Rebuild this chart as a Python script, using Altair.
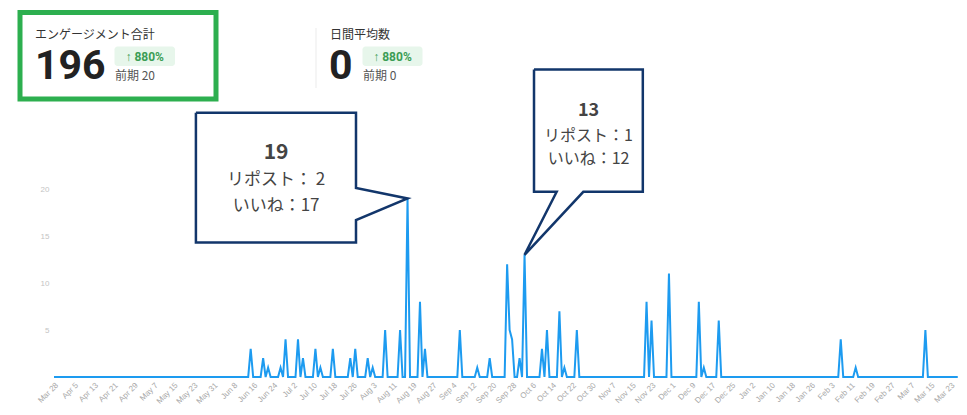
import altair as alt
import pandas as pd

# ---------------- data ----------------
start_date = "2024-03-28"
end_date = "2025-03-26"

peak_dates = ["2024-06-15", "2024-06-20", "2024-06-22", "2024-06-27", "2024-06-29",
              "2024-07-04", "2024-07-06", "2024-07-11", "2024-07-13", "2024-07-18",
              "2024-07-25", "2024-07-27", "2024-08-01", "2024-08-03", "2024-08-08",
              "2024-08-14", "2024-08-17", "2024-08-22", "2024-08-24", "2024-09-07",
              "2024-09-14", "2024-09-19", "2024-09-26", "2024-09-27", "2024-09-28",
              "2024-10-01", "2024-10-03", "2024-10-10", "2024-10-12", "2024-10-17",
              "2024-10-19", "2024-10-24", "2024-11-21", "2024-11-23", "2024-11-30",
              "2024-12-12", "2024-12-14", "2024-12-20", "2025-02-07", "2025-02-13",
              "2025-03-13"]
peak_values = [3, 2, 1, 1, 4,
               4, 2, 3, 1, 3,
               2, 3, 2, 1, 5,
               5, 19, 8, 3, 5,
               1, 2, 12, 5, 4,
               2, 13, 3, 5, 7,
               1, 5, 8, 6, 11,
               8, 1, 6, 4, 1,
               5]

tick_dates = ["2024-03-28", "2024-04-05", "2024-04-13", "2024-04-21", "2024-04-29",
              "2024-05-07", "2024-05-15", "2024-05-23", "2024-05-31", "2024-06-08",
              "2024-06-16", "2024-06-24", "2024-07-02", "2024-07-10", "2024-07-18",
              "2024-07-26", "2024-08-03", "2024-08-11", "2024-08-19", "2024-08-27",
              "2024-09-04", "2024-09-12", "2024-09-20", "2024-09-28", "2024-10-06",
              "2024-10-14", "2024-10-22", "2024-10-30", "2024-11-07", "2024-11-15",
              "2024-11-23", "2024-12-01", "2024-12-09", "2024-12-17", "2024-12-25",
              "2025-01-02", "2025-01-10", "2025-01-18", "2025-01-26", "2025-02-03",
              "2025-02-11", "2025-02-19", "2025-02-27", "2025-03-07", "2025-03-15",
              "2025-03-23"]
y_ticks = [5, 10, 15, 20]

# callouts (day offsets from start_date, values on the y scale)
box1_days = [57.0, 121.3, 121.3, 142.0, 121.3, 121.3, 57.0, 57.0]
box1_vals = [28.1, 28.1, 20.1, 19.0, 16.7, 14.3, 14.3, 28.1]
box1_text_day = 89.2
box1_lines = ["19", "リポスト： 2", "いいね：17"]
box1_text_vals = [23.8, 20.95, 18.2]

box2_days = [192.8, 236.5, 236.5, 212.6, 189.0, 201.9, 192.8, 192.8]
box2_vals = [32.7, 32.7, 19.7, 19.7, 13.0, 19.7, 19.7, 32.7]
box2_text_day = 214.7
box2_lines = ["13", "リポスト：1", "いいね：12"]
box2_text_vals = [28.3, 25.65, 23.2]

# KPI header
kpi1_title = "エンゲージメント合計"
kpi1_value = "196"
kpi1_change = "↑ 880%"
kpi1_prev = "前期 20"
kpi2_title = "日間平均数"
kpi2_value = "0"
kpi2_change = "↑ 880%"
kpi2_prev = "前期 0"

# ---------------- build ----------------
FMT = "%Y-%m-%dT%H:%M:%S"
start = pd.Timestamp(start_date)
dates = pd.date_range(start_date, end_date, freq="D")
pmap = {pd.Timestamp(d): v for d, v in zip(peak_dates, peak_values)}
series = pd.DataFrame({
    "date": [d.strftime(FMT) for d in dates],
    "value": [pmap.get(d, 0) for d in dates],
})


def day_to_str(days):
    return [(start + pd.to_timedelta(d, unit="D")).strftime(FMT) for d in days]


def dt(s):
    t = pd.Timestamp(s)
    return alt.DateTime(year=t.year, month=t.month, date=t.day, hours=t.hour, minutes=t.minute)


W, H = 905, 369
x_scale = alt.Scale(domain=[dt("2024-03-28"), dt("2025-03-26 12:00")], type="time")
y_scale = alt.Scale(domain=[0, H / 9.4], nice=False, zero=True)

x_axis = alt.Axis(values=[dt(t) for t in tick_dates], format="%b %-d", labelAngle=315,
                  labelFontSize=8, labelColor="#a8a8a8", domain=False, ticks=False,
                  grid=False, title=None, labelPadding=4, labelOverlap=False,
                  labelFont="Liberation Sans")
y_axis = alt.Axis(values=y_ticks, domain=False, ticks=False, grid=False, title=None,
                  labelFontSize=8, labelColor="#c4c4c4", labelPadding=5,
                  labelFont="Liberation Sans")

X = lambda: alt.X("date:T", scale=x_scale, axis=x_axis)
Y = lambda: alt.Y("value:Q", scale=y_scale, axis=y_axis)

line = alt.Chart(series).mark_line(color="#1d9bf0", strokeWidth=2, interpolate="linear").encode(
    x=X(), y=Y(),
)

NAVY = "#12366b"


def callout(days, vals):
    df = pd.DataFrame({"date": day_to_str(days), "value": vals, "i": list(range(len(days)))})
    return alt.Chart(df).mark_line(color=NAVY, strokeWidth=2.5, strokeJoin="miter").encode(
        x=X(), y=Y(), order="i:O",
    )


def callout_text(day, lines, vals, big, small):
    df = pd.DataFrame({"date": day_to_str([day] * len(lines)), "value": vals, "label": lines,
                       "bold": [True] + [False] * (len(lines) - 1)})
    base = alt.Chart(df).encode(x=X(), y=Y(), text="label:N")
    num = base.transform_filter("datum.bold").mark_text(
        fontSize=big, fontWeight="bold", color="#444444", font="Noto Sans CJK JP",
        align="center", baseline="middle")
    rest = base.transform_filter("!datum.bold").mark_text(
        fontSize=small, color="#444444", font="Noto Sans CJK JP",
        align="center", baseline="middle")
    return num + rest


one = alt.Data(values=[{"k": 0}])
OX, OY = 54, 8  # page position of the plot origin


def htext(txt, px, py, size, color, weight="normal", align="left", baseline="middle", font="Noto Sans CJK JP"):
    return alt.Chart(one).mark_text(text=txt, fontSize=size, color=color, fontWeight=weight,
                                    align=align, baseline=baseline, font=font).encode(
        x=alt.value(px - OX), y=alt.value(py - OY))


def hrect(x1, y1, x2, y2, **kw):
    return alt.Chart(one).mark_rect(**kw).encode(
        x=alt.value(x1 - OX), x2=alt.value(x2 - OX), y=alt.value(y1 - OY), y2=alt.value(y2 - OY))


header = [
    hrect(20, 12.5, 216, 99, fill="#ffffff", fillOpacity=0, stroke="#2daf4f", strokeWidth=5),
    htext(kpi1_title, 35, 35, 12, "#333333"),
    htext(kpi1_value, 35, 78.5, 41, "#222222", weight="bold", baseline="alphabetic", font="Roboto"),
    hrect(114.5, 46.5, 175, 66, fill="#e7f6eb", cornerRadius=3),
    htext(kpi1_change, 144.7, 56.5, 12, "#3b9d55", weight="bold", align="center", font="Roboto"),
    htext(kpi1_prev, 115, 76, 12, "#555555"),
    hrect(315.5, 28, 316.5, 88, fill="#ececec"),
    htext(kpi2_title, 330, 35, 12, "#333333"),
    htext(kpi2_value, 329, 78.5, 41, "#222222", weight="bold", baseline="alphabetic", font="Roboto"),
    hrect(362.5, 46.5, 422.5, 66, fill="#e7f6eb", cornerRadius=3),
    htext(kpi2_change, 392.5, 56.5, 12, "#3b9d55", weight="bold", align="center", font="Roboto"),
    htext(kpi2_prev, 363, 76, 12, "#555555"),
]

chart = alt.layer(
    line,
    callout(box1_days, box1_vals),
    callout(box2_days, box2_vals),
    callout_text(box1_text_day, box1_lines, box1_text_vals, 21, 17),
    callout_text(box2_text_day, box2_lines, box2_text_vals, 18, 16),
    *header,
).properties(
    width=W, height=H,
    autosize=alt.AutoSizeParams(type="none"),
    padding={"left": 46, "top": 0, "right": 0, "bottom": 30},
    background="#ffffff",
).configure_view(strokeWidth=0)

chart.save("out.html", embed_options={"renderer": "svg", "actions": False})
